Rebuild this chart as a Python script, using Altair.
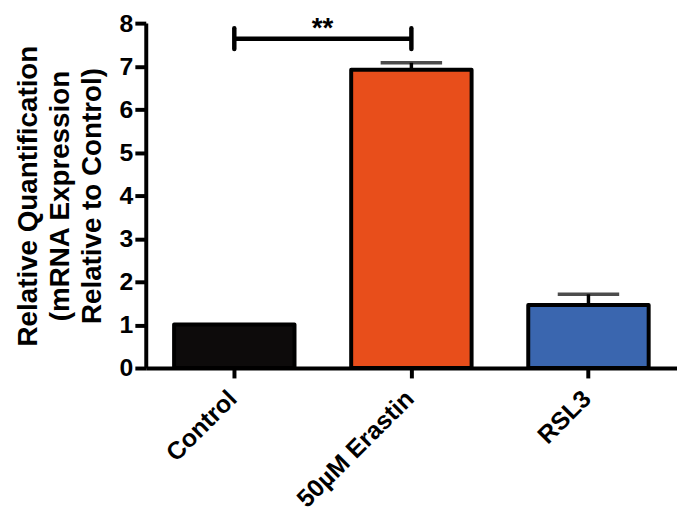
import altair as alt
import pandas as pd

categories = ["Control", "50µM Erastin", "RSL3"]
means = [1.01, 6.92, 1.46]
upper = [1.01, 7.08, 1.71]
colors = ["#0d0b0b", "#e84e1b", "#3a66af"]
bracket_from = "Control"
bracket_to = "50µM Erastin"
bracket_y = 7.64
bracket_cap_lo = 7.40
bracket_cap_hi = 7.88
sig_label = "**"
y_ticks = [0, 1, 2, 3, 4, 5, 6, 7, 8]

df = pd.DataFrame({"cat": categories, "mean": means, "upper": upper})
err = df[df["upper"] > df["mean"]]

FONT = "Liberation Sans"

xscale = alt.Scale(domain=categories, paddingInner=0.32, paddingOuter=0.16)
yscale = alt.Scale(domain=[0, 8], nice=False)

x_enc = alt.X("cat:N", scale=xscale, sort=categories,
              axis=alt.Axis(title=None, labelAngle=-45, labelFontSize=25, labelFontWeight="bold",
                            labelFont=FONT, labelColor="black", domainColor="black", domainWidth=4,
                            tickColor="black", tickWidth=4, tickSize=10, labelPadding=8,
                            labelOffset=-10, labelOverlap=False, labelBound=False))
y_enc = alt.Y("mean:Q", scale=yscale,
              axis=alt.Axis(values=y_ticks, grid=False, format="d",
                            title=["Relative Quantification", "(mRNA Expression", "Relative to Control)"],
                            titleFontSize=28, titleFontWeight="bold", titleFont=FONT, titleColor="black",
                            titleLineHeight=32, titlePadding=13,
                            labelFontSize=25, labelFontWeight="bold", labelFont=FONT, labelColor="black",
                            labelPadding=2, domainColor="black", domainWidth=4,
                            tickColor="black", tickWidth=4, tickSize=11))

bars = alt.Chart(df).mark_bar(stroke="black", strokeWidth=4, strokeJoin="round").encode(
    x=x_enc,
    y=y_enc,
    color=alt.Color("cat:N", scale=alt.Scale(domain=categories, range=colors), legend=None),
)

stems = alt.Chart(err).mark_rule(color="black", strokeWidth=3.5).encode(
    x=alt.X("cat:N", scale=xscale, sort=categories),
    y=alt.Y("mean:Q", scale=yscale),
    y2="upper:Q",
)
caps = alt.Chart(err).mark_tick(color="black", thickness=3.5, size=62).encode(
    x=alt.X("cat:N", scale=xscale, sort=categories),
    y=alt.Y("upper:Q", scale=yscale),
)

br = pd.DataFrame({"a": [bracket_from], "b": [bracket_to], "y": [bracket_y]})
bracket = alt.Chart(br).mark_rule(color="black", strokeWidth=4.5).encode(
    x=alt.X("a:N", scale=xscale, sort=categories),
    x2="b:N",
    y=alt.Y("y:Q", scale=yscale),
)
brc = pd.DataFrame({"c": [bracket_from, bracket_to], "lo": [bracket_cap_lo] * 2, "hi": [bracket_cap_hi] * 2})
bracket_caps = alt.Chart(brc).mark_rule(color="black", strokeWidth=4.5, strokeCap="round").encode(
    x=alt.X("c:N", scale=xscale, sort=categories),
    y=alt.Y("lo:Q", scale=yscale),
    y2="hi:Q",
)
sig = alt.Chart(pd.DataFrame({"c": [bracket_from], "y": [bracket_y], "t": [sig_label]})).mark_text(
    fontSize=28, fontWeight="bold", font=FONT, color="black", baseline="alphabetic", dx=89, dy=-2
).encode(
    x=alt.X("c:N", scale=xscale, sort=categories),
    y=alt.Y("y:Q", scale=yscale),
    text="t:N",
)

chart = alt.layer(bars, stems, caps, bracket, bracket_caps, sig).properties(
    width=536, height=348, autosize="none", background="white",
    padding={"left": 139, "top": 13, "right": 0, "bottom": 143},
).configure_view(stroke=None)

chart.save("out.html", embed_options={"renderer": "svg", "actions": False})
